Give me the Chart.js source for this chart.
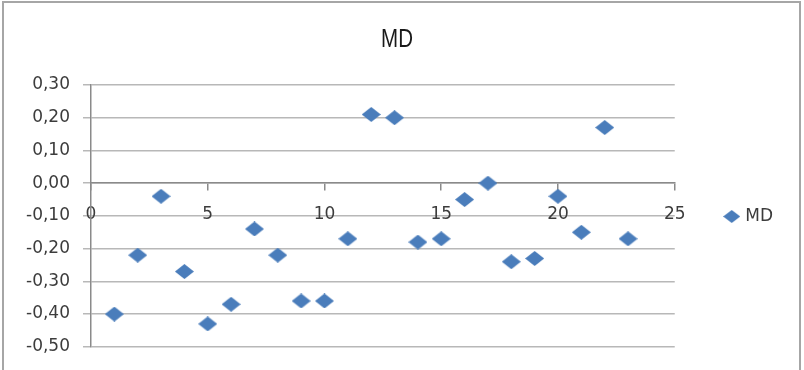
<!DOCTYPE html>
<html>
<head>
<meta charset="utf-8">
<script src="https://cdn.jsdelivr.net/npm/chart.js@4/dist/chart.umd.min.js"></script>
<style>
  html, body { margin: 0; padding: 0; background: #fff; overflow: hidden; }
  canvas { display: block; }
</style>
</head>
<body>
<canvas id="chart" width="804" height="370"></canvas>
<script>
// Chart text
const chartTitle = 'MD';
const seriesName = 'MD';

// Observation number (x) and MD value (y) for each point
const sampleIndex = [1, 2, 3, 4, 5, 6, 7, 8, 9, 10, 11, 12, 13, 14, 15, 16, 17, 18, 19, 20, 21, 22, 23];
const mdValues = [-0.40, -0.22, -0.04, -0.27, -0.43, -0.37, -0.14, -0.22, -0.36, -0.36, -0.17, 0.21,
                  0.20, -0.18, -0.17, -0.05, 0.00, -0.24, -0.23, -0.04, -0.15, 0.17, -0.17];

// Axis ticks
const xTickValues = [0, 5, 10, 15, 20, 25];
const yTickValues = [-0.5, -0.4, -0.3, -0.2, -0.1, 0, 0.1, 0.2, 0.3];

// Diamond markers drawn once and reused for points and legend
function makeDiamond(w, h, color) {
  const c = document.createElement('canvas');
  c.width = w; c.height = h;
  const g = c.getContext('2d');
  g.beginPath();
  g.moveTo(w / 2, 0);
  g.lineTo(w, h / 2);
  g.lineTo(w / 2, h);
  g.lineTo(0, h / 2);
  g.closePath();
  g.fillStyle = color;
  g.fill();
  return c;
}
const markerColor = '#4a7dbb';
const pointMarker = makeDiamond(19, 15, markerColor);
const legendMarker = makeDiamond(17, 13, markerColor);

const textColor = '#3c3c3c';
const gridColor = '#b8b8b8';
const axisColor = '#8a8a8a';
const labelFont = { family: "'DejaVu Sans', sans-serif", size: 17, weight: 'normal' };

// White background and outer frame
const canvasStyle = {
  id: 'canvasStyle',
  beforeDraw(chart) {
    const ctx = chart.ctx;
    ctx.save();
    ctx.fillStyle = '#ffffff';
    ctx.fillRect(0, 0, chart.width, chart.height);
    ctx.strokeStyle = '#a6a6a6';
    ctx.lineWidth = 2;
    ctx.strokeRect(3, 2, 797, 420);
    ctx.restore();
  }
};

// Condensed chart title centred above the plot
const condensedTitle = {
  id: 'condensedTitle',
  afterDraw(chart) {
    const ctx = chart.ctx;
    ctx.save();
    ctx.translate(397, 40);
    ctx.scale(0.82, 1);
    ctx.font = "25px 'Liberation Sans', sans-serif";
    ctx.fillStyle = '#1a1a1a';
    ctx.textAlign = 'center';
    ctx.textBaseline = 'middle';
    ctx.fillText(chartTitle, 0, 0);
    ctx.restore();
  }
};

Chart.defaults.font.family = labelFont.family;
Chart.defaults.font.size = labelFont.size;
Chart.defaults.color = textColor;

new Chart(document.getElementById('chart'), {
  type: 'scatter',
  data: {
    datasets: [{
      label: seriesName,
      data: sampleIndex.map((x, i) => ({ x: x, y: mdValues[i] })),
      pointStyle: pointMarker,
      pointRadius: 9,
      pointHoverRadius: 9
    }]
  },
  options: {
    responsive: false,
    animation: false,
    events: [],
    layout: { padding: { left: 0, top: 85, right: 21, bottom: 22 } },
    plugins: {
      title: { display: false },
      legend: {
        position: 'right',
        labels: {
          usePointStyle: true,
          pointStyleWidth: 10,
          padding: 52,
          color: textColor,
          font: labelFont,
          generateLabels(chart) {
            const items = Chart.defaults.plugins.legend.labels.generateLabels(chart);
            items.forEach(item => { item.pointStyle = legendMarker; });
            return items;
          }
        }
      },
      tooltip: { enabled: false }
    },
    scales: {
      x: {
        type: 'linear',
        position: { y: 0 },
        min: 0,
        max: 25,
        afterBuildTicks: s => { s.ticks = xTickValues.map(v => ({ value: v })); },
        grid: { display: true, drawOnChartArea: false, drawTicks: true, tickLength: 7, color: axisColor, lineWidth: 1.5 },
        border: { display: true, color: axisColor, width: 1.5 },
        ticks: { padding: 14, color: textColor, font: labelFont }
      },
      y: {
        type: 'linear',
        position: 'left',
        min: -0.5,
        max: 0.3,
        afterBuildTicks: s => { s.ticks = yTickValues.map(v => ({ value: v })); },
        afterFit: s => { s.width = 91; },
        grid: { color: gridColor, lineWidth: 1.5, tickLength: 8, drawTicks: true },
        border: { display: true, color: axisColor, width: 1.5 },
        ticks: {
          padding: 13,
          color: textColor,
          font: labelFont,
          callback: v => v.toFixed(2).replace('.', ',')
        }
      }
    }
  },
  plugins: [canvasStyle, condensedTitle]
});
</script>
</body>
</html>
